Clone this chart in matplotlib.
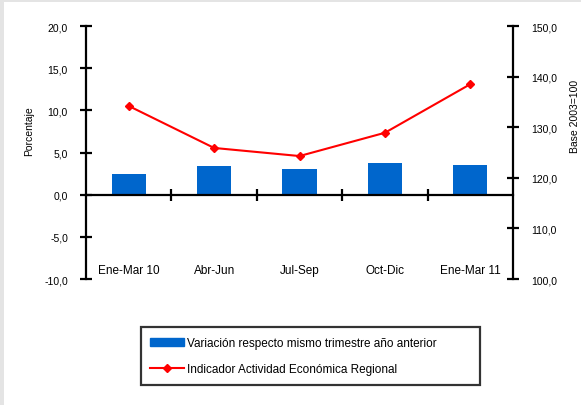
import matplotlib
matplotlib.use("Agg")
import matplotlib.pyplot as plt
from matplotlib.patches import Rectangle
from matplotlib.lines import Line2D
from matplotlib.ticker import FuncFormatter

categories = ["Ene-Mar 10", "Abr-Jun", "Jul-Sep", "Oct-Dic", "Ene-Mar 11"]
variacion = [2.4, 3.4, 3.1, 3.7, 3.5]
indicador = [134.2, 125.9, 124.3, 128.9, 138.5]

BLUE = "#0066cc"
RED = "#ff0000"
plt.rcParams.update({"font.family": "Liberation Sans", "font.size": 7.5})

fig = plt.figure(figsize=(5.81, 4.06), dpi=100)
fig.patch.set_facecolor("#e4e4e4")
fig.patches.append(Rectangle((4 / 581, 0), 1, 1 - 3 / 406, transform=fig.transFigure,
                             facecolor="white", edgecolor="none", zorder=-1))

ax = fig.add_axes([86 / 581, 1 - 280 / 406, 427 / 581, 253 / 406])
ax.patch.set_alpha(0)
x = list(range(len(categories)))
ax.bar(x, variacion, width=0.4, color=BLUE, zorder=2)
ax.set_xlim(-0.5, len(categories) - 0.5)
ax.set_ylim(-10, 20)
ax.set_yticks([-10, -5, 0, 5, 10, 15, 20])
comma = FuncFormatter(lambda v, p: f"{v:.1f}".replace(".", ","))
ax.yaxis.set_major_formatter(comma)

for s in ("top", "right"):
    ax.spines[s].set_visible(False)
ax.spines["left"].set_linewidth(1.6)
ax.spines["bottom"].set_position(("data", 0))
ax.spines["bottom"].set_linewidth(1.6)
ax.set_xticks([i + 0.5 for i in x[:-1]])
ax.set_xticklabels([])
ax.tick_params(axis="x", direction="inout", length=8, width=1.6)
ax.tick_params(axis="y", direction="inout", length=8, width=1.6, pad=9)
for i, c in enumerate(categories):
    ax.text(i, 0.035, c, transform=ax.get_xaxis_transform(), ha="center", va="center",
            fontsize=8.5)

ax2 = ax.twinx()
ax2.plot(x, indicador, color=RED, lw=1.5, marker="D", ms=4.5, zorder=3)
ax2.set_ylim(100, 150)
ax2.set_yticks([100, 110, 120, 130, 140, 150])
ax2.yaxis.set_major_formatter(comma)
for s in ("top", "left", "bottom"):
    ax2.spines[s].set_visible(False)
ax2.spines["right"].set_linewidth(1.6)
ax2.tick_params(axis="y", direction="inout", length=8, width=1.6, pad=9)

fig.text(29 / 581, 1 - 131 / 406, "Porcentaje", rotation=90, ha="center", va="center",
         fontsize=7.5)
fig.text(575 / 581, 1 - 116 / 406, "Base 2003=100", rotation=90, ha="center",
         va="center", fontsize=7.5)

handles = [Rectangle((0, 0), 1, 1, color=BLUE),
           Line2D([], [], color=RED, lw=1.5, marker="D", ms=4.5)]
labels = ["Variación respecto mismo trimestre año anterior",
          "Indicador Actividad Económica Regional"]
leg = fig.legend(handles, labels, loc="center", mode="expand",
                 bbox_to_anchor=(141 / 581, 1 - 391 / 406, 339 / 581, 68 / 406),
                 fancybox=False, edgecolor="black", fontsize=8.5, labelspacing=1.2,
                 handlelength=2.8, handletextpad=0.3, borderpad=0.8, borderaxespad=0)
leg.get_frame().set_linewidth(1.6)

fig.savefig("out.png", dpi=100)
